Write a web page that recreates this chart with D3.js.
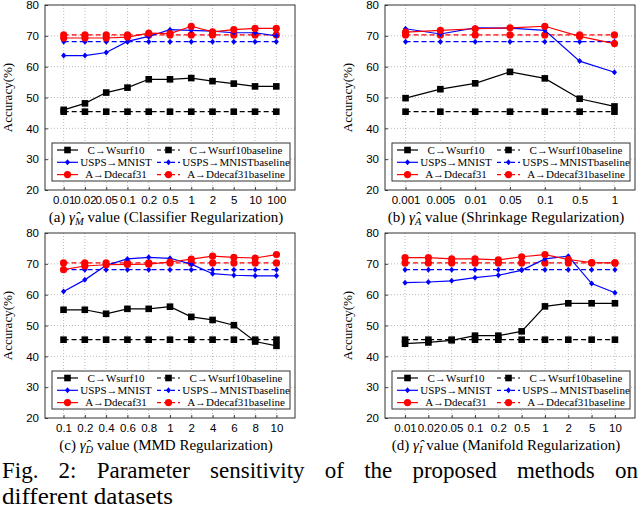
<!DOCTYPE html>
<html>
<head>
<meta charset="utf-8">
<script src="https://cdn.jsdelivr.net/npm/d3@7/dist/d3.min.js"></script>
<style>
  body { margin: 0; background: #fff; }
  svg { font-family: "Liberation Serif", "DejaVu Serif", serif; }
  .grid line { stroke: #bbb; stroke-dasharray: 1,2; }
</style>
</head>
<body>
<div id="chart"></div>
<script>
// ---- data ----
const ticksA = ["0.01", "0.02", "0.05", "0.1", "0.2", "0.5", "1", "2", "5", "10", "100"];
const cwA = [46.0, 48.1, 51.6, 53.2, 55.9, 55.9, 56.3, 55.3, 54.5, 53.6, 53.6];
const umA = [63.6, 63.6, 64.6, 68.2, 69.8, 72.0, 71.8, 71.5, 71.0, 71.0, 70.0];
const adA = [69.3, 69.3, 69.3, 69.6, 70.9, 70.7, 73.1, 71.3, 72.0, 72.4, 72.4];

const ticksB = ["0.001", "0.005", "0.01", "0.05", "0.1", "0.5", "1"];
const cwB = [49.8, 52.7, 54.6, 58.3, 56.2, 49.6, 47.1];
const umB = [72.3, 70.6, 72.6, 72.5, 71.8, 61.8, 58.2];
const adB = [71.2, 71.8, 72.3, 72.6, 73.1, 69.8, 67.5];

const ticksC = ["0.1", "0.2", "0.4", "0.6", "0.8", "1", "2", "4", "6", "8", "10"];
const cwC = [55.1, 55.1, 53.8, 55.4, 55.4, 56.1, 52.8, 51.8, 50.1, 44.8, 43.4];
const umC = [61.0, 64.8, 69.5, 71.6, 72.1, 71.8, 69.9, 66.8, 66.3, 66.1, 66.1];
const adC = [68.1, 69.3, 69.7, 69.8, 69.9, 70.6, 71.5, 72.5, 72.1, 71.9, 73.0];

const ticksD = ["0.01", "0.02", "0.05", "0.1", "0.2", "0.5", "1", "2", "5", "10"];
const cwD = [44.1, 44.5, 45.2, 46.7, 46.7, 48.1, 56.2, 57.2, 57.2, 57.2];
const umD = [63.9, 64.1, 64.5, 65.5, 66.3, 67.9, 71.6, 72.5, 63.6, 60.6];
const adD = [72.0, 72.0, 71.6, 71.6, 71.3, 72.3, 73.0, 71.4, 70.4, 70.3];

const baseCW = 45.4, baseUM = 68.1, baseAD = 70.3;

const seriesNames = ["C\u2192Wsurf10", "USPS\u2192MNIST", "A\u2192Ddecaf31"];
const colors = ["#000", "#0000ff", "#ff0000"];
const marks = ["square", "diamond", "circle"];
const yTicks = [20, 30, 40, 50, 60, 70, 80];

const panels = [
  {left: 45, top: 5, ticks: ticksA, data: [cwA, umA, adA], pad: 0.88, lab: "(a)", sub: "M", desc: "value (Classifier Regularization)"},
  {left: 385, top: 5, ticks: ticksB, data: [cwB, umB, adB], pad: 0.59, lab: "(b)", sub: "A", desc: "value (Shrinkage Regularization)"},
  {left: 45, top: 233, ticks: ticksC, data: [cwC, umC, adC], pad: 0.87, lab: "(c)", sub: "D", desc: "value (MMD Regularization)"},
  {left: 385, top: 233, ticks: ticksD, data: [cwD, umD, adD], pad: 0.86, lab: "(d)", sub: "I", desc: "value (Manifold Regularization)"}
];
const baselines = [baseCW, baseUM, baseAD];

const svg = d3.select("#chart").append("svg")
  .attr("width", 640).attr("height", 510);

function drawMark(g, type, x, y, color) {
  if (type === "square") {
    g.append("rect").attr("x", x - 3.3).attr("y", y - 3.3)
      .attr("width", 6.6).attr("height", 6.6).attr("fill", color);
  } else if (type === "diamond") {
    g.append("path").attr("d", `M${x},${y - 3}L${x + 2.6},${y}L${x},${y + 3}L${x - 2.6},${y}Z`)
      .attr("fill", color);
  } else {
    g.append("circle").attr("cx", x).attr("cy", y).attr("r", 3.6).attr("fill", color);
  }
}

const w = 250, h = 185;

panels.forEach(p => {
  const g = svg.append("g").attr("transform", `translate(${p.left},${p.top})`);

  const x = d3.scalePoint().domain(p.ticks).range([0, w]).padding(p.pad);
  const y = d3.scaleLinear().domain([20, 80]).range([h, 0]);

  // grid
  const grid = g.append("g").attr("class", "grid");
  grid.selectAll(".gx").data(p.ticks).enter().append("line")
    .attr("x1", d => x(d)).attr("x2", d => x(d)).attr("y1", 0).attr("y2", h);
  grid.selectAll(".gy").data(yTicks.slice(1, -1)).enter().append("line")
    .attr("x1", 0).attr("x2", w).attr("y1", d => y(d)).attr("y2", d => y(d));

  // axes
  const xAxis = d3.axisBottom(x).tickSize(-3).tickPadding(6);
  const yAxis = d3.axisLeft(y).tickValues(yTicks).tickSize(-3).tickPadding(6);
  g.append("g").attr("transform", `translate(0,${h})`).call(xAxis)
    .call(a => a.select(".domain").remove())
    .selectAll("text").attr("font-size", 11.5).attr("fill", "#000");
  g.append("g").call(yAxis)
    .call(a => a.select(".domain").remove())
    .selectAll("text").attr("font-size", 11.5).attr("fill", "#000");
  g.selectAll(".tick line").attr("stroke", "#444");

  g.append("rect").attr("width", w).attr("height", h)
    .attr("fill", "none").attr("stroke", "#333").attr("stroke-width", 1);

  g.append("text")
    .attr("transform", `translate(-33,${h / 2}) rotate(-90)`)
    .attr("text-anchor", "middle").attr("font-size", 13)
    .text("Accuracy(%)");

  const line = d3.line().x((d, i) => x(p.ticks[i])).y(d => y(d));

  // baselines (dashed)
  baselines.forEach((b, k) => {
    const vals = p.ticks.map(() => b);
    g.append("path").attr("d", line(vals)).attr("fill", "none")
      .attr("stroke", colors[k]).attr("stroke-width", 1.3).attr("stroke-dasharray", "5,3");
    vals.forEach((v, i) => drawMark(g, marks[k], x(p.ticks[i]), y(v), colors[k]));
  });

  // series
  p.data.forEach((vals, k) => {
    g.append("path").attr("d", line(vals)).attr("fill", "none")
      .attr("stroke", colors[k]).attr("stroke-width", 1.2);
    vals.forEach((v, i) => drawMark(g, marks[k], x(p.ticks[i]), y(v), colors[k]));
  });

  // legend
  const lg = g.append("g").attr("transform", `translate(7,${h - 47})`);
  lg.append("rect").attr("width", 238).attr("height", 38)
    .attr("fill", "#fff").attr("stroke", "#333");
  seriesNames.forEach((name, k) => {
    const ry = 7 + k * 12.3;
    lg.append("line").attr("x1", 5).attr("x2", 26).attr("y1", ry).attr("y2", ry)
      .attr("stroke", colors[k]).attr("stroke-width", 1.2);
    drawMark(lg, marks[k], 15.5, ry, colors[k]);
    lg.append("text").attr("x", 64).attr("y", ry + 3.6).attr("text-anchor", "middle")
      .attr("font-size", 11).text(name);
    lg.append("line").attr("x1", 105).attr("x2", 128).attr("y1", ry).attr("y2", ry)
      .attr("stroke", colors[k]).attr("stroke-width", 1.2).attr("stroke-dasharray", "4,3");
    drawMark(lg, marks[k], 116.5, ry, colors[k]);
    lg.append("text").attr("x", 184).attr("y", ry + 3.6).attr("text-anchor", "middle")
      .attr("font-size", 11).text(name + "baseline");
  });

  // sub caption
  const cap = g.append("text").attr("x", w / 2 - 4).attr("y", h + 32)
    .attr("text-anchor", "middle").attr("font-size", 15);
  cap.append("tspan").text(p.lab + " ");
  cap.append("tspan").attr("font-style", "italic").text("\u03B3\u0302");
  cap.append("tspan").attr("font-style", "italic").attr("font-size", 10.5).attr("dy", 3).text(p.sub);
  cap.append("tspan").attr("dy", -3).text(" " + p.desc);
});

// figure caption, first line justified via word spacing
const line1 = svg.append("text").attr("x", 2).attr("y", 478).attr("font-size", 23)
  .text("Fig. 2: Parameter sensitivity of the proposed methods on");
const natural = line1.node().getComputedTextLength();
const gaps = line1.text().split(" ").length - 1;
line1.attr("word-spacing", Math.max(0, (636 - natural) / gaps));
svg.append("text").attr("x", 2).attr("y", 504).attr("font-size", 23)
  .attr("textLength", 171).attr("lengthAdjust", "spacingAndGlyphs")
  .text("different datasets");
</script>
</body>
</html>
